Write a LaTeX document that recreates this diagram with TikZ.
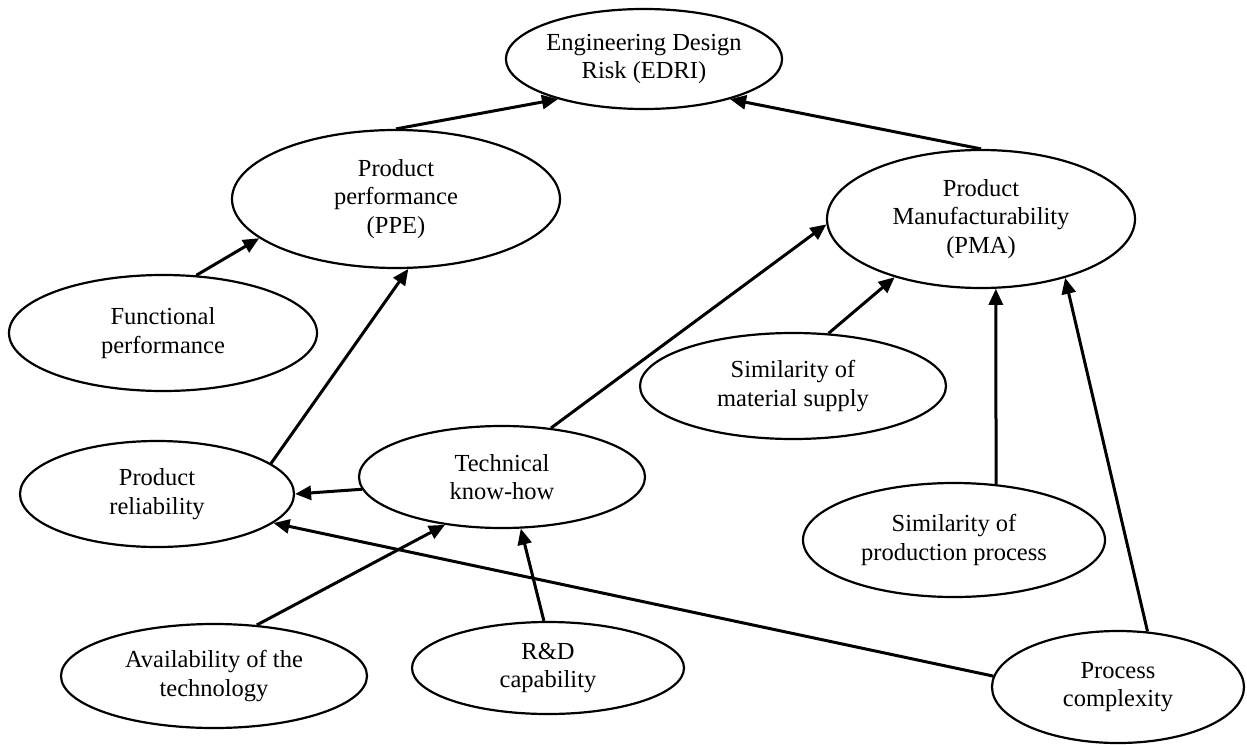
\documentclass[tikz,border=0pt]{standalone}
\usepackage{fontspec}
\setmainfont{Liberation Serif}
\usetikzlibrary{shapes.geometric,arrows.meta}

\begin{document}
\begin{tikzpicture}[x=1pt,y=-1pt,
    factor/.style={ellipse,draw,line width=2.2pt,inner sep=0pt,align=center,
      font=\fontsize{24.5}{28.5}\selectfont},
    >={Triangle[length=16pt,width=14pt]}]
    \useasboundingbox (0,0) rectangle (1247,744);
    \node [factor,minimum width=246,minimum height=100] (EDRI) at (644,59) {Engineering Design\\Risk (EDRI)};
    \node [factor,minimum width=328,minimum height=138] (PPE) at (396,199) {Product\\performance\\(PPE)};
    \node [factor,minimum width=308,minimum height=138] (PMA) at (981,219) {Product\\Manufacturability\\(PMA)};
    \node [factor,minimum width=308,minimum height=116] (FP) at (163,333) {Functional\\performance};
    \node [factor,minimum width=274,minimum height=106] (PR) at (157,494) {Product\\reliability};
    \node [factor,minimum width=286,minimum height=102] (TK) at (502,477) {Technical\\know-how};
    \node [factor,minimum width=306,minimum height=106] (SMS) at (793,386) {Similarity of\\material supply};
    \node [factor,minimum width=302,minimum height=114] (SPP) at (954,540) {Similarity of\\production process};
    \node [factor,minimum width=306,minimum height=104] (AT) at (214,676) {Availability of the\\technology};
    \node [factor,minimum width=272,minimum height=92] (RD) at (548,668) {R\&D\\capability};
    \node [factor,minimum width=252,minimum height=112] (PC) at (1118,687) {Process\\complexity};
    \begin{scope}[line width=3pt]
    \draw [->] (PPE.north) to (EDRI.205);
    \draw [->] (PMA.north) to (EDRI.335);
    \draw [->] (FP.60) to (PPE.196);
    \draw [->] (PR.15) to (PPE.280);
    \draw [->] (TK.185) to (PR.east);
    \draw [->] (TK.45) to (PMA.182);
    \draw [->] (SMS.56) to (PMA.214);
    \draw [->] (SPP.53) to (PMA.282);
    \draw [->] (PC.62) to (PMA.325);
    \draw [->] (PC.175) to (PR.346);
    \draw [->] (AT.50) to (TK.220);
    \draw [->] (RD.95) to (TK.290);
    \end{scope}
  \end{tikzpicture}
\end{document}
